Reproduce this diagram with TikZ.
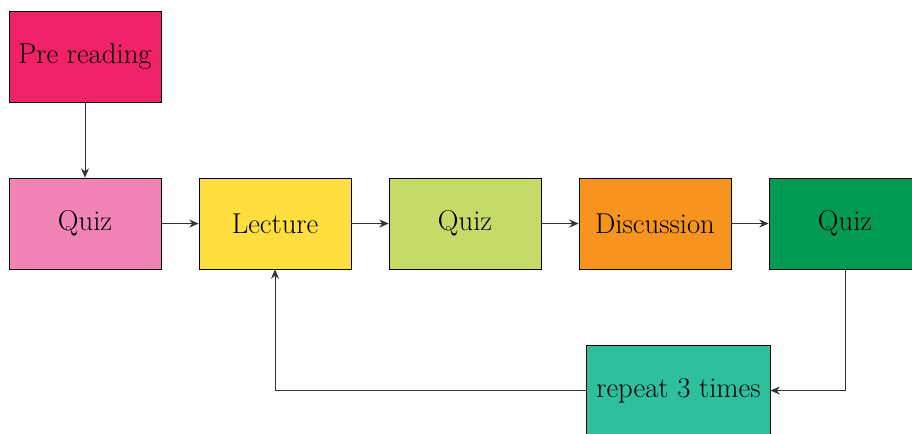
\documentclass[tikz,border=0pt]{standalone}
\usetikzlibrary{arrows.meta}
\definecolor{cpre}{HTML}{EF2169}
\definecolor{cquizA}{HTML}{F283B6}
\definecolor{clect}{HTML}{FFDE40}
\definecolor{cquizB}{HTML}{C6DB67}
\definecolor{cdisc}{HTML}{F7941E}
\definecolor{cquizC}{HTML}{009A53}
\definecolor{crep}{HTML}{2EBF9F}
\begin{document}
\begin{tikzpicture}[
  blk/.style={draw=black, line width=0.6pt, minimum width=4cm, minimum height=2.395cm,
    inner sep=7.1pt, font=\fontsize{21.5}{26}\selectfont},
  arr/.style={draw=black!80, line width=0.6pt, -{Stealth[length=7pt,width=6pt]}}
]
\useasboundingbox (0,0) rectangle (24,11.395);
\node[blk, fill=cpre] (pre) at (2.237,9.908) {Pre reading};
\node[blk, fill=cquizA] (q1) at (2.237,5.513) {Quiz};
\node[blk, fill=clect] (lec) at (7.237,5.513) {Lecture};
\node[blk, fill=cquizB] (q2) at (12.237,5.513) {Quiz};
\node[blk, fill=cdisc] (disc) at (17.237,5.513) {Discussion};
\node[blk, fill=cquizC] (q3) at (22.237,5.513) {Quiz};
\node[blk, fill=crep] (rep) at (17.855,1.118) {repeat 3 times};
\draw[arr] (pre) -- (q1);
\draw[arr] (q1) -- (lec);
\draw[arr] (lec) -- (q2);
\draw[arr] (q2) -- (disc);
\draw[arr] (disc) -- (q3);
\draw[arr] (q3.south) |- (rep.east);
\draw[arr] (rep.west) -| (lec.south);
\end{tikzpicture}
\end{document}
